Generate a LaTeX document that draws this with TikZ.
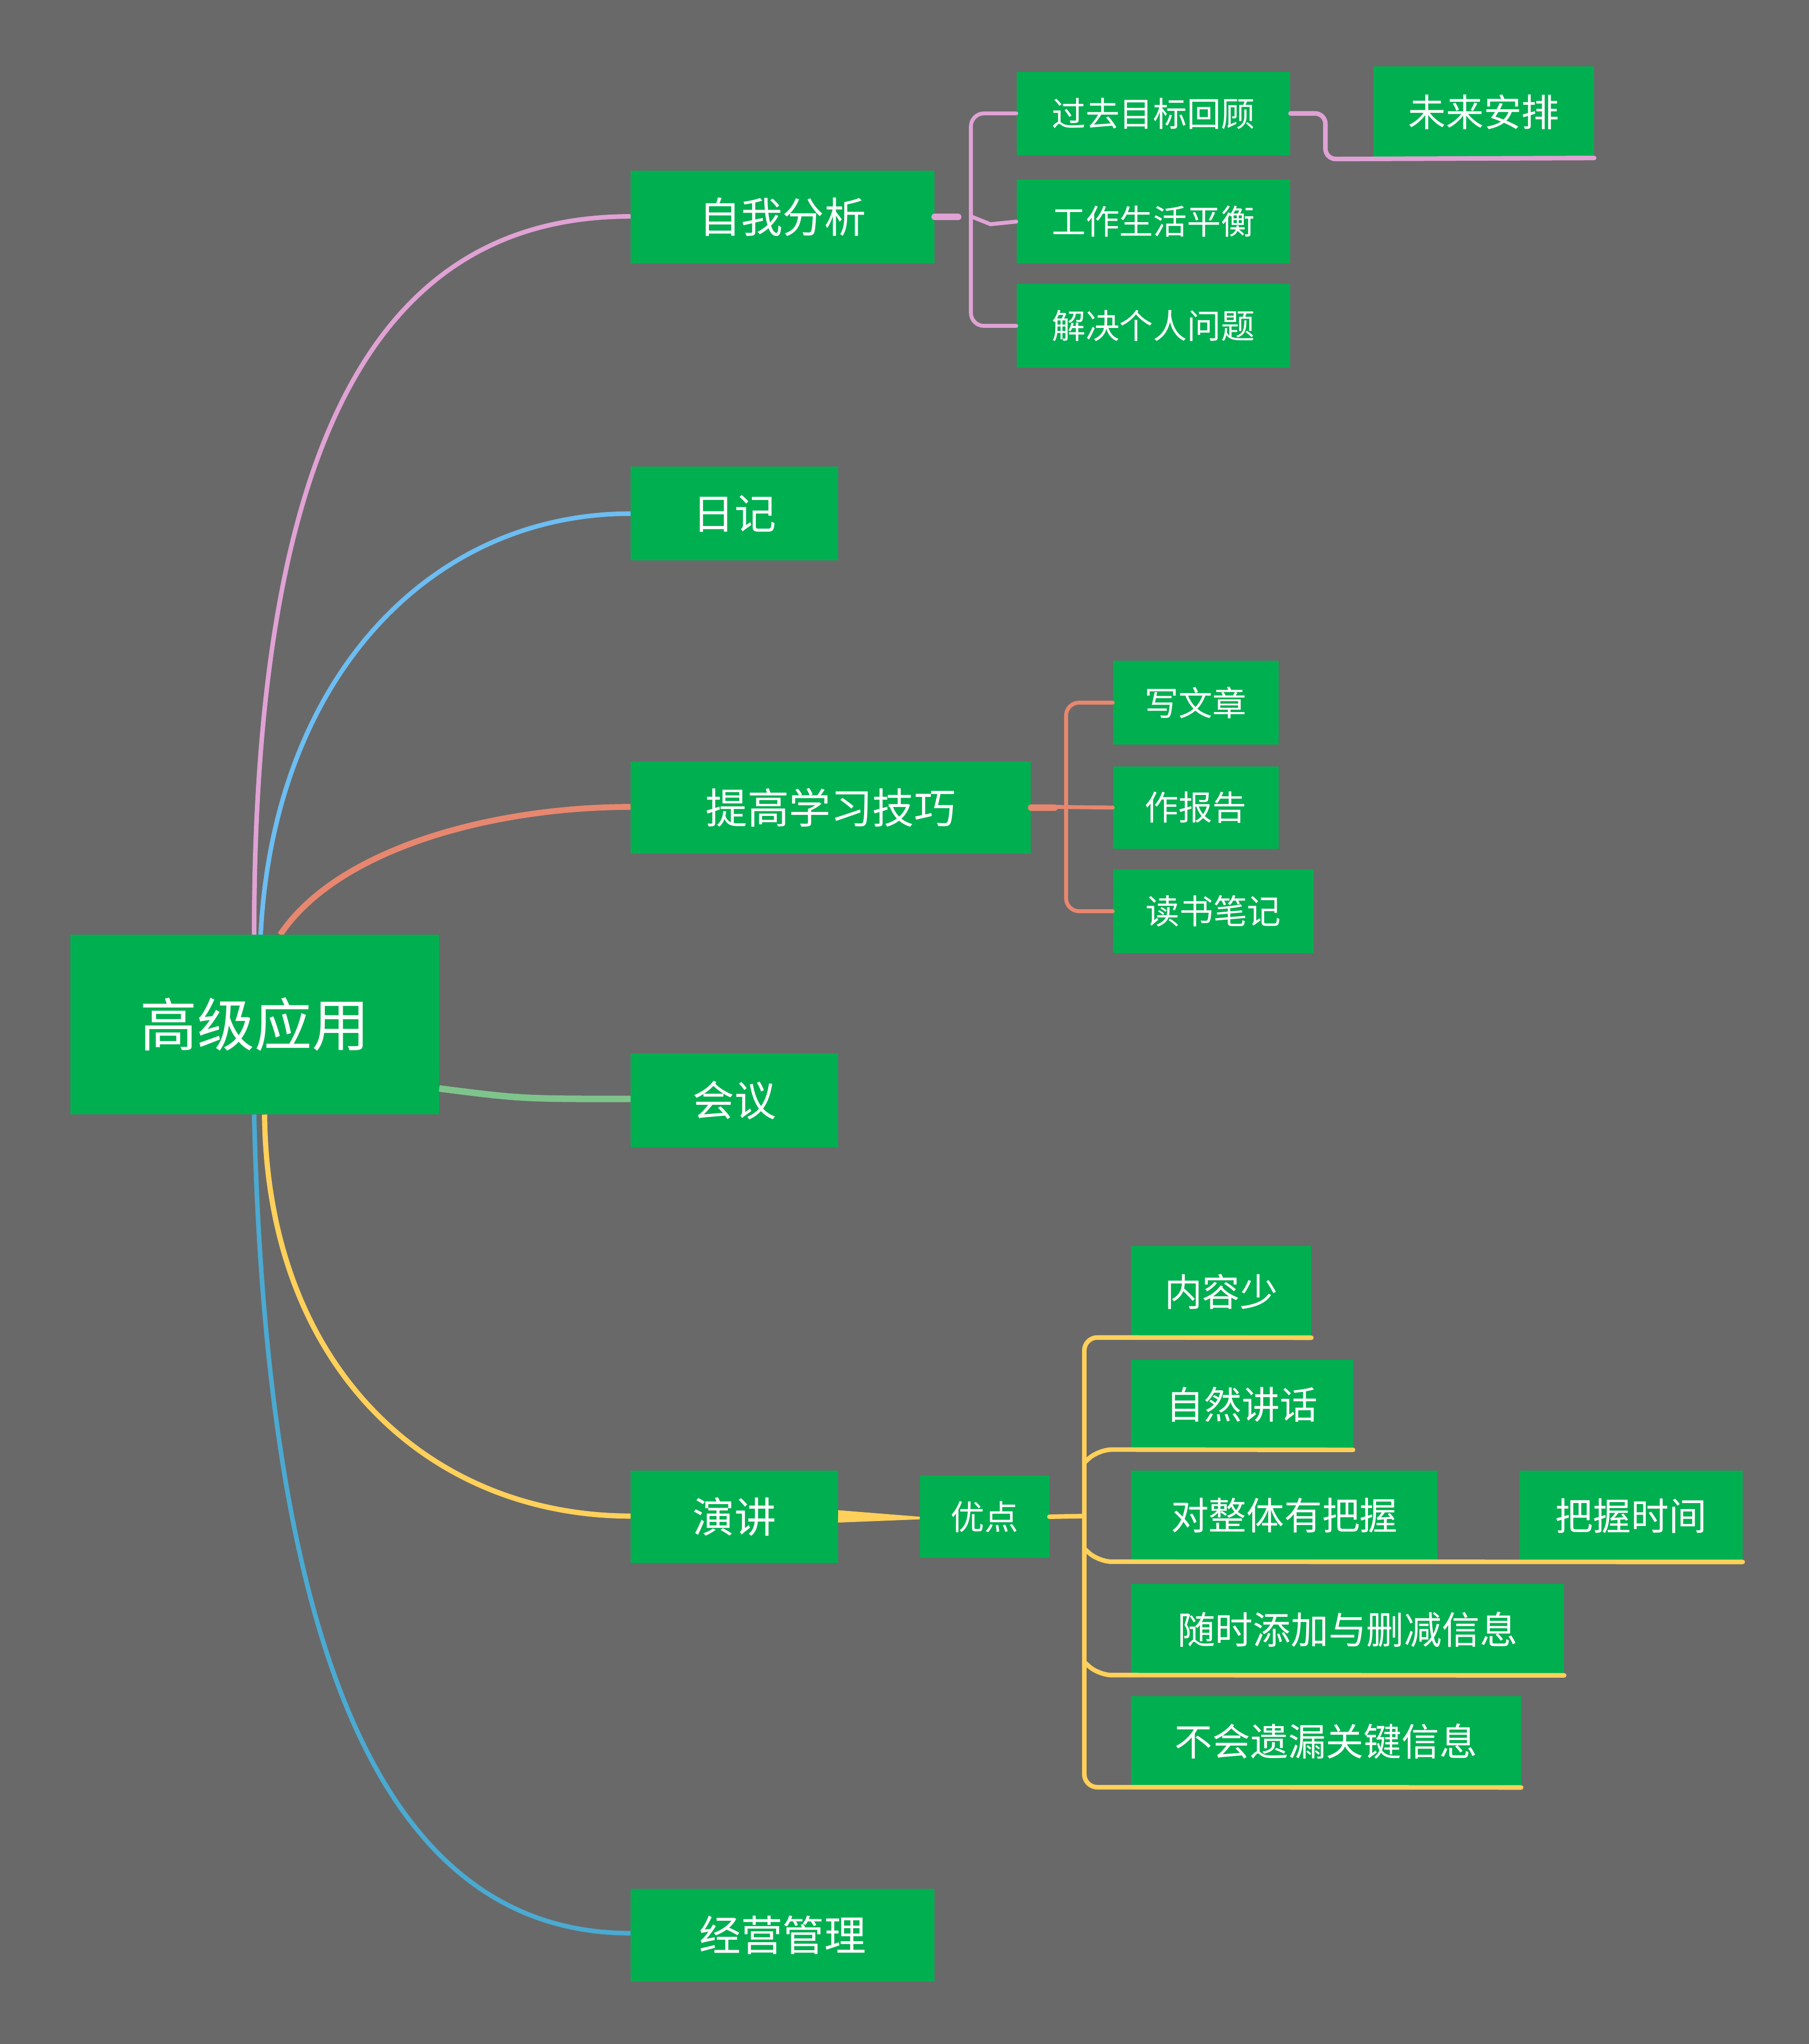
\documentclass[tikz,border=0pt]{standalone}
\usepackage{fontspec}
\setmainfont{Noto Sans CJK SC}
\begin{document}
\begin{tikzpicture}[x=1pt,y=-1pt,
 box/.style={fill=boxg,text=white,inner sep=0pt,anchor=center},
 conn/.style={line cap=round,line join=round}]
\definecolor{bg}{HTML}{696969}
\definecolor{boxg}{HTML}{00B050}
\definecolor{cpink}{HTML}{E0A2D4}
\definecolor{cblue}{HTML}{6CBDF2}
\definecolor{csal}{HTML}{E8876F}
\definecolor{cgrn}{HTML}{7FC48C}
\definecolor{cyel}{HTML}{FFD05A}
\definecolor{cblu2}{HTML}{4AAAD2}
\fill[bg] (0,0) rectangle (1388,1568);
\useasboundingbox (0,0) rectangle (1388,1568);
\newcommand{\bx}[7]{\node[box,minimum width=#4-#2,minimum height=#5-#3,font=\fontsize{#6}{#6}\selectfont] (#1) at ({(#2+#4)/2},{(#3+#5)/2}) {#7};}
% connectors from root first
\coordinate (r1) at (195,717);
\coordinate (r2) at (200,717);
\coordinate (r3) at (215,717);
\coordinate (r4) at (337,835);
\coordinate (r5) at (203,855);
\coordinate (r6) at (195,855);
\draw[cpink,line width=3.5] (r1) .. controls (195,320) and (300,166) .. (484,166);
\draw[cblue,line width=3.5] (r2) .. controls (210,520) and (330,394) .. (484,394);
\draw[csal,line width=4.5] (r3) .. controls (260,650) and (380,619) .. (484,619);
\draw[cgrn,line width=5] (r4) .. controls (400,843) .. (484,843);
\draw[cyel,line width=4] (r5) .. controls (205,1050) and (330,1163) .. (484,1163);
\draw[cblu2,line width=3.5] (r6) .. controls (205,1280) and (300,1483) .. (484,1483);
\bx{root}{54}{717}{337}{855}{44}{高级应用}
\bx{a}{484}{131}{717}{202}{32}{自我分析}
\bx{b}{484}{358}{643}{430}{32}{日记}
\bx{c}{484}{584}{791}{655}{32}{提高学习技巧}
\bx{d}{484}{808}{643}{880}{32}{会议}
\bx{e}{484}{1128}{643}{1199}{32}{演讲}
\bx{f}{484}{1449}{717}{1520}{32}{经营管理}
\bx{a1}{780}{55}{990}{119}{26}{过去目标回顾}
\bx{a2}{780}{138}{990}{202}{26}{工作生活平衡}
\bx{a3}{780}{218}{990}{282}{26}{解决个人问题}
\bx{a11}{1054}{51}{1223}{121}{29}{未来安排}
\bx{c1}{854}{507}{981}{571}{26}{写文章}
\bx{c2}{854}{588}{981}{651}{26}{作报告}
\bx{c3}{854}{667}{1008}{731}{26}{读书笔记}
\bx{e1}{706}{1132}{805}{1195}{26}{优点}
\bx{g1}{868}{956}{1006}{1026}{29}{内容少}
\bx{g2}{868}{1043}{1038}{1112}{29}{自然讲话}
\bx{g3}{868}{1128}{1103}{1197}{29}{对整体有把握}
\bx{g31}{1166}{1128}{1337}{1198}{29}{把握时间}
\bx{g4}{868}{1215}{1200}{1285}{29}{随时添加与删减信息}
\bx{g5}{868}{1301}{1167}{1371}{29}{不会遗漏关键信息}
% 自我分析 brace
\draw[cpink,line width=5,conn] (a.east) -- ++(18,0);
\draw[cpink,line width=3,conn,rounded corners=10] (a1.west) -- (745,87) -- (745,250) -- (a3.west);
\draw[cpink,line width=3,conn] (745,166) -- (760,172) -- (a2.west);
\draw[cpink,line width=3.5,conn,rounded corners=8] (a1.east) -- (1017,87) -- (1017,122) -- (a11.south east);
% 提高学习技巧 brace
\draw[csal,line width=5,conn] (c.east) -- ++(18,0);
\draw[csal,line width=3,conn,rounded corners=10] (c1.west) -- (818,539) -- (818,699) -- (c3.west);
\draw[csal,line width=3,conn] (809,619) -- (c2.west);
% 演讲
\fill[cyel] (e.east) ++(0,-5) -- (e1.west) -- ++(0,2) -- (643,1168) -- cycle;
\draw[cyel,line width=3.5,conn] (e1.east) -- (832,1163);
\draw[cyel,line width=3.5,conn,rounded corners=10] (g1.south east) -- (832,1026) -- (832,1371) -- (g5.south east);
\draw[cyel,line width=3.5,conn,rounded corners=10] (g2.south east) -- (843,1112) -- (832,1122);
\draw[cyel,line width=3.5,conn,rounded corners=10] (g31.south east) -- (843,1198) -- (832,1188);
\draw[cyel,line width=3.5,conn,rounded corners=10] (g4.south east) -- (843,1285) -- (832,1275);
\end{tikzpicture}
\end{document}
